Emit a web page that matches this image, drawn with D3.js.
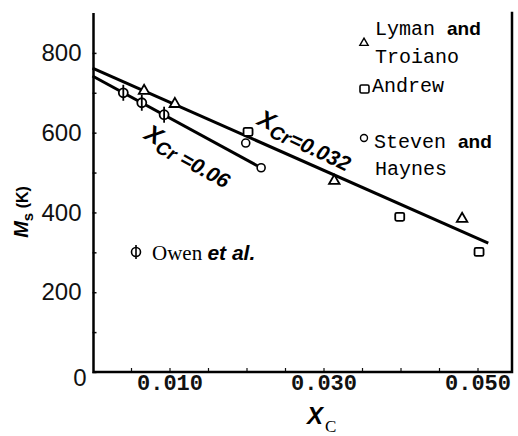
<!DOCTYPE html>
<html>
<head>
<meta charset="utf-8">
<script src="https://cdn.jsdelivr.net/npm/d3@7"></script>
<style>
  body { margin: 0; background: #fff; }
  svg { display: block; }
</style>
</head>
<body>
<div id="chart"></div>
<script>
// Data: Ms (K) against carbon content XC
const lymanX = [0.0067, 0.0107, 0.0314, 0.0480];
const lymanY = [705, 672, 479, 384];
const andrewX = [0.0202, 0.0399, 0.0502];
const andrewY = [602, 389, 301];
const stevenX = [0.0199, 0.0219];
const stevenY = [574, 512];
const owenX = [0.0040, 0.0064, 0.0093];
const owenY = [700, 675, 645];

// fitted lines (end points)
const line032X = [0, 0.0514];
const line032Y = [762, 323];
const line006X = [0, 0.0214];
const line006Y = [742, 517];

const yTicks = [0, 100, 200, 300, 400, 500, 600, 700, 800];
const yLabels = [0, 200, 400, 600, 800];
const xTicks = [0.005, 0.010, 0.015, 0.020, 0.025, 0.030, 0.035, 0.040, 0.045, 0.050];
const xLabels = [0.010, 0.030, 0.050];

const width = 518, height = 436;
const svg = d3.select("#chart").append("svg")
    .attr("width", width)
    .attr("height", height);

const x = d3.scaleLinear().domain([0, 0.05448]).range([92.5, 512]);
const y = d3.scaleLinear().domain([0, 900]).range([372, 13]);

// axes, ticks point inwards
const yAxis = d3.axisLeft(y)
    .tickValues(yTicks)
    .tickSizeInner(-4)
    .tickSizeOuter(0)
    .tickPadding(11)
    .tickFormat(d => (yLabels.includes(d) && d !== 0 ? d : ""));

const xAxis = d3.axisBottom(x)
    .tickValues(xTicks)
    .tickSizeInner(-4)
    .tickSizeOuter(0)
    .tickPadding(2)
    .tickFormat(d => (xLabels.some(v => Math.abs(v - d) < 1e-9) ? d3.format(".3f")(d) : ""));

const tickFont = "Liberation Sans";

const gy = svg.append("g")
    .attr("class", "y-axis")
    .attr("transform", `translate(${x(0)},0)`)
    .call(yAxis);
gy.select(".domain").remove();
gy.selectAll(".tick line").attr("stroke", "#111").attr("stroke-width", 1.5);
gy.selectAll(".tick text")
    .style("font-family", tickFont)
    .style("font-size", "24px")
    .attr("fill", "#111");

const gx = svg.append("g")
    .attr("class", "x-axis")
    .attr("transform", `translate(0,${y(0)})`)
    .call(xAxis);
gx.select(".domain").remove();
gx.selectAll(".tick line").attr("stroke", "#111").attr("stroke-width", 1.2);
gx.selectAll(".tick text")
    .style("font-family", "Liberation Mono")
    .style("font-weight", "bold")
    .style("font-size", "22px")
    .attr("fill", "#111");

// frame: left, bottom, right (no top)
svg.append("path")
    .attr("d", `M${x(0) + 1},${y(900)} L${x(0) + 1},${y(0)} L${x.range()[1]},${y(0)} L${x.range()[1]},${y(903)}`)
    .attr("fill", "none")
    .attr("stroke", "#000")
    .attr("stroke-width", 2.5);

// the "0" sits below the corner
svg.append("text")
    .attr("x", 80)
    .attr("y", 386)
    .attr("text-anchor", "middle")
    .style("font-family", tickFont)
    .style("font-size", "24px")
    .attr("fill", "#111")
    .text("0");

// fitted lines
const line = d3.line().x(d => x(d[0])).y(d => y(d[1]));
[[line032X, line032Y], [line006X, line006Y]].forEach(([xs, ys]) => {
    svg.append("path")
        .datum(d3.zip(xs, ys))
        .attr("fill", "none")
        .attr("stroke", "#000")
        .attr("stroke-width", 3)
        .attr("d", line);
});

// markers
const tri = d3.symbol().type(d3.symbolTriangle).size(48);
svg.append("g").selectAll("path")
    .data(d3.zip(lymanX, lymanY))
    .join("path")
    .attr("transform", d => `translate(${x(d[0])},${y(d[1])})`)
    .attr("d", tri)
    .attr("fill", "#fff")
    .attr("stroke", "#000")
    .attr("stroke-width", 1.8);

svg.append("g").selectAll("rect")
    .data(d3.zip(andrewX, andrewY))
    .join("rect")
    .attr("x", d => x(d[0]) - 4.5)
    .attr("y", d => y(d[1]) - 4)
    .attr("width", 9)
    .attr("height", 8)
    .attr("rx", 1.5)
    .attr("fill", "#fff")
    .attr("stroke", "#000")
    .attr("stroke-width", 1.8);

svg.append("g").selectAll("circle")
    .data(d3.zip(stevenX, stevenY))
    .join("circle")
    .attr("cx", d => x(d[0]))
    .attr("cy", d => y(d[1]))
    .attr("r", 4)
    .attr("fill", "#fff")
    .attr("stroke", "#000")
    .attr("stroke-width", 1.6);

const owen = svg.append("g").selectAll("g")
    .data(d3.zip(owenX, owenY))
    .join("g")
    .attr("transform", d => `translate(${x(d[0])},${y(d[1])})`);
owen.append("circle")
    .attr("r", 4.5)
    .attr("fill", "#fff")
    .attr("stroke", "#000")
    .attr("stroke-width", 1.8);
owen.append("line")
    .attr("y1", -8).attr("y2", 8)
    .attr("stroke", "#000")
    .attr("stroke-width", 1.8);

// line annotations
function annot(tx, ty, angle, sub, value) {
    const t = svg.append("text")
        .attr("transform", `translate(${tx},${ty}) rotate(${angle})`)
        .style("font-family", "Liberation Sans")
        .style("font-weight", "bold")
        .style("font-style", "italic")
        .attr("fill", "#000");
    t.append("tspan").style("font-size", "24px").text("X");
    t.append("tspan").style("font-size", "19px").attr("dy", 6).text(sub);
    t.append("tspan").style("font-size", "21px").attr("dy", -1).text(value);
}
annot(256, 124, 25, "Cr", "=0.032");
annot(143, 138, 29, "Cr", " =0.06");

// legend
const mono = "Liberation Mono";
function legendLine(px, py, parts) {
    const t = svg.append("text").attr("x", px).attr("y", py).attr("fill", "#000");
    parts.forEach(([txt, style]) => {
        const s = t.append("tspan").text(txt);
        if (style === "bold") s.style("font-family", "Liberation Sans").style("font-weight", "bold").style("font-size", "19px");
        else if (style === "bi") s.style("font-family", "Liberation Sans").style("font-weight", "bold").style("font-style", "italic").style("font-size", "21px");
        else if (style === "serif") s.style("font-family", "Liberation Serif").style("font-size", "21px");
        else s.style("font-family", mono).style("font-size", "20px");
    });
}
legendLine(375, 35, [["Lyman ", "mono"], ["and", "bold"]]);
legendLine(375, 63, [["Troiano", "mono"]]);
legendLine(372, 92, [["Andrew", "mono"]]);
legendLine(374, 148, [["Steven ", "mono"], ["and", "bold"]]);
legendLine(375, 175, [["Haynes", "mono"]]);
legendLine(152, 260, [["Owen ", "serif"], ["et al.", "bi"]]);

svg.append("path")
    .attr("transform", "translate(364,43)")
    .attr("d", d3.symbol().type(d3.symbolTriangle).size(30))
    .attr("fill", "#fff").attr("stroke", "#000").attr("stroke-width", 1.4);
svg.append("rect")
    .attr("x", 360).attr("y", 85).attr("width", 9).attr("height", 8).attr("rx", 1.5)
    .attr("fill", "#fff").attr("stroke", "#000").attr("stroke-width", 1.6);
svg.append("circle")
    .attr("cx", 364).attr("cy", 138).attr("r", 3.5)
    .attr("fill", "#fff").attr("stroke", "#000").attr("stroke-width", 1.4);
svg.append("circle")
    .attr("cx", 136).attr("cy", 252).attr("r", 4.5)
    .attr("fill", "#fff").attr("stroke", "#000").attr("stroke-width", 1.6);
svg.append("line")
    .attr("x1", 136).attr("x2", 136).attr("y1", 245).attr("y2", 259)
    .attr("stroke", "#000").attr("stroke-width", 1.6);

// axis titles
const yl = svg.append("text")
    .attr("transform", "translate(28,212) rotate(-90)")
    .attr("text-anchor", "middle")
    .style("font-family", "Liberation Sans")
    .style("font-weight", "bold")
    .attr("fill", "#000");
yl.append("tspan").style("font-style", "italic").style("font-size", "20px").text("M");
yl.append("tspan").style("font-size", "15px").attr("dy", 5).text("s");
yl.append("tspan").style("font-size", "16px").attr("dy", -5).text(" (K)");

const xl = svg.append("text")
    .attr("x", 307)
    .attr("y", 424)
    .attr("fill", "#000");
xl.append("tspan")
    .style("font-family", "Liberation Sans")
    .style("font-weight", "bold")
    .style("font-style", "italic")
    .style("font-size", "24px")
    .text("X");
xl.append("tspan")
    .attr("dy", 8)
    .attr("dx", 2)
    .style("font-family", "Liberation Serif")
    .style("font-size", "17px")
    .text("C");
</script>
</body>
</html>
